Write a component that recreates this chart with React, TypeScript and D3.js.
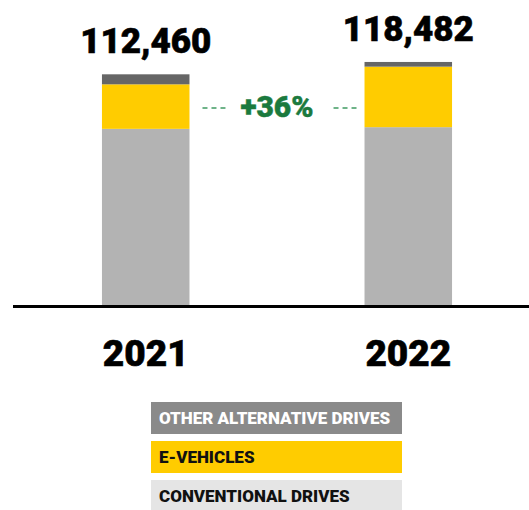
import React from "react";
import * as d3 from "d3";

const years = ["2021", "2022"];
const totals = [112460, 118482];
const conventional = [85880, 86692];
const eVehicles = [21700, 29500];
const otherAlt = [4880, 2290];
const growthLabel = "+36%";
const seriesNames = ["CONVENTIONAL DRIVES", "E-VEHICLES", "OTHER ALTERNATIVE DRIVES"];
const seriesColors = ["#b3b3b3", "#ffcc00", "#666666"];

const W = 529;
const H = 510;
const FONT = "Roboto, 'DejaVu Sans', sans-serif";

export default function App() {
  const x = d3
    .scaleBand<string>()
    .domain(years)
    .range([14, 540])
    .paddingInner(2 / 3)
    .paddingOuter(0.335);
  const y = d3.scaleLinear().domain([0, 125000]).range([305, 305 - 125000 / 487.5]);

  const table = years.map((yr, i) => ({
    year: yr,
    c: conventional[i],
    e: eVehicles[i],
    o: otherAlt[i],
  }));
  const stack = d3.stack<any>().keys(["c", "e", "o"])(table);

  const bw = x.bandwidth();
  const x0 = x(years[0])! + bw;
  const x1 = x(years[1])!;
  const midX = (x0 + x1) / 2;
  const arrowY = 108;

  const legendOrder = [2, 1, 0];
  const legendBg = ["#e5e5e5", "#ffcc00", "#8a8a8a"];
  const legendText = ["#111", "#111", "#fff"];

  return (
    <svg
      width={W}
      height={H}
      style={{ position: "absolute", left: 0, top: 0, background: "#fff" }}
      fontFamily={FONT}
    >
      {stack.map((s, si) =>
        s.map((d, i) => (
          <rect
            key={`${si}-${i}`}
            x={x(years[i])}
            width={bw}
            y={y(d[1])}
            height={y(d[0]) - y(d[1])}
            fill={seriesColors[si]}
          />
        ))
      )}
      {years.map((yr, i) => (
        <text
          key={"t" + yr}
          x={x(yr)! + bw / 2}
          y={y(totals[i]) - 21}
          textAnchor="middle"
          fontSize={35}
          fontWeight={900}
          fill="#000"
          stroke="#000"
          strokeWidth={0.6}
        >
          {d3.format(",")(totals[i])}
        </text>
      ))}
      <line x1={13} x2={529} y1={306.5} y2={306.5} stroke="#000" strokeWidth={3} />
      {years.map((yr) => (
        <text
          key={"y" + yr}
          x={x(yr)! + bw / 2}
          y={366}
          textAnchor="middle"
          fontSize={37}
          fontWeight={900}
          fill="#000"
          stroke="#000"
          strokeWidth={0.6}
        >
          {yr}
        </text>
      ))}
      <line x1={x0 + 13} x2={x0 + 37} y1={arrowY} y2={arrowY} stroke="#3f9a62" strokeWidth={1.5} strokeDasharray="5,4" />
      <line x1={x1 - 31} x2={x1 - 7} y1={arrowY} y2={arrowY} stroke="#3f9a62" strokeWidth={1.5} strokeDasharray="5,4" />
      <text x={midX} y={117} textAnchor="middle" fontSize={30} fontWeight={900} fill="#1b7a3e" stroke="#1b7a3e" strokeWidth={0.5}>
        {growthLabel}
      </text>
      {legendOrder.map((si, k) => {
        const top = 402 + k * 39;
        return (
          <g key={"l" + si}>
            <rect x={151} y={top} width={251} height={32} fill={legendBg[si]} />
            <text x={159} y={top + 22} fontSize={17} fontWeight={900} fill={legendText[si]}>
              {seriesNames[si]}
            </text>
          </g>
        );
      })}
    </svg>
  );
}
